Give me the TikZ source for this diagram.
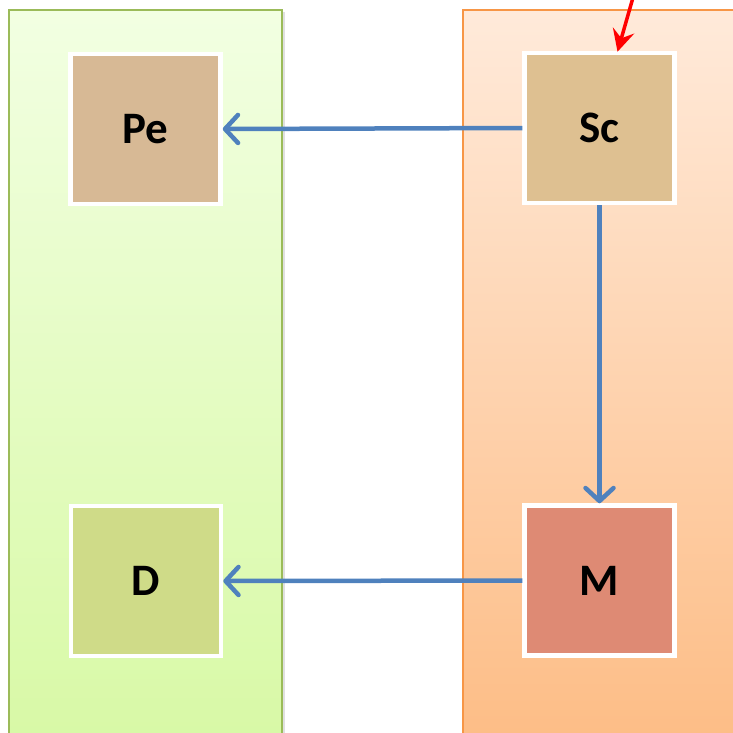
\documentclass[tikz,border=0pt]{standalone}
\usepackage{fontspec}
\setmainfont{Carlito}
\usetikzlibrary{arrows.meta}
\definecolor{lgreenT}{HTML}{F2FFE2}
\definecolor{lgreenB}{HTML}{D8F9A6}
\definecolor{lgreenE}{HTML}{9BBB59}
\definecolor{orT}{HTML}{FFEADA}
\definecolor{orB}{HTML}{FDBD86}
\definecolor{orE}{HTML}{F79646}
\definecolor{peC}{HTML}{D7B995}
\definecolor{scC}{HTML}{DEC091}
\definecolor{dC}{HTML}{CFDB88}
\definecolor{mC}{HTML}{DE8A74}
\definecolor{flowC}{HTML}{4F81BD}
\tikzset{
  x=1pt,y=-1pt,
  panel/.style={line width=1.5pt},
  cell/.style={draw=white,line width=4.5pt,minimum width=150pt,minimum height=150pt,
    inner sep=0pt,font=\fontsize{45}{48}\selectfont\bfseries,text=black},
  flow/.style={draw=flowC,line width=4.5pt,-{Straight Barb[length=13pt,width=28pt,line width=4.5pt,round]}},
  inflow/.style={draw=red,line width=3.5pt,-{Stealth[length=22pt,width=22pt,inset=8pt]}}
}
\begin{document}
\begin{tikzpicture}
\useasboundingbox (0,0) rectangle (733,732);
\fill[black!12] (11,12) rectangle (285,740);
\shade[top color=lgreenT,bottom color=lgreenB,draw=lgreenE,panel] (9,10) rectangle (282,740);
\fill[black!12] (465,12) rectangle (740,740);
\shade[top color=orT,bottom color=orB,draw=orE,panel] (463,10) rectangle (740,740);
\node[cell,fill=peC] (pe) at (145.5,129) {Pe};
\node[cell,fill=scC] (sc) at (599.5,128) {Sc};
\node[cell,fill=dC] (d) at (146,581) {D};
\node[cell,fill=mC] (m) at (599.5,580.5) {M};
\coordinate (src) at (634,-6);
\draw[flow] (sc.west) -- (pe.east);
\draw[flow] (m.west) -- (d.east);
\draw[flow] (sc.south) -- (m.north);
\draw[inflow] (src) -- ([xshift=18pt,yshift=-1pt]sc.north);
\end{tikzpicture}
\end{document}
